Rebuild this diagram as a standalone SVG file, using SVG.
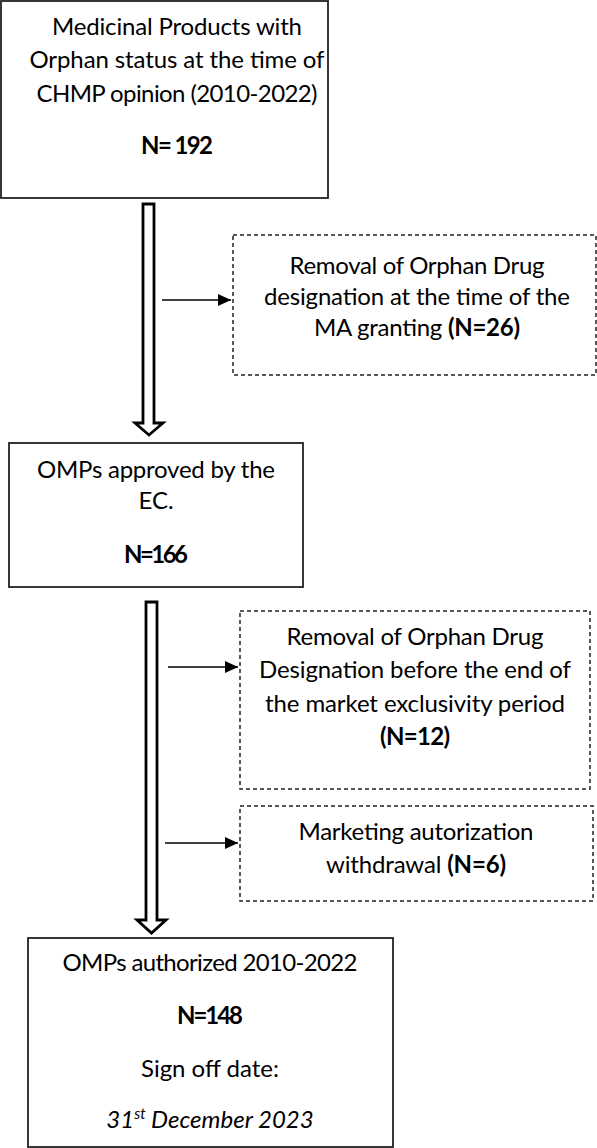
<svg xmlns="http://www.w3.org/2000/svg" width="597" height="1148" viewBox="0 0 597 1148">
<style>
text{font-family:Lato,"Liberation Sans",sans-serif;font-size:24px;fill:#000;text-anchor:middle}
.b{font-weight:bold}
.i{font-style:italic}
.box{fill:#fff;stroke:#222;stroke-width:1.8}
.dash{fill:#fff;stroke:#222;stroke-width:1.5;stroke-dasharray:4 3}
.block{fill:#fff;stroke:#000;stroke-width:2.8;stroke-linejoin:miter}
.conn{stroke:#000;stroke-width:1.6;fill:none}
</style>
<defs>
<marker id="ah" markerWidth="13" markerHeight="12" refX="13" refY="6" orient="auto" markerUnits="userSpaceOnUse" viewBox="0 0 13 12">
<path d="M0,0 L13,6 L0,12 Z" fill="#000"/>
</marker>
</defs>
<rect width="597" height="1148" fill="#fff"/>
<g id="connectors">
<path class="block" d="M143,204 H154 V423 H163 L149,435 L135,423 H143 Z"/>
<path class="block" d="M146,602 H157 V920 H166 L151.5,933 L137,920 H146 Z"/>
<line class="conn" x1="162" y1="300" x2="231" y2="300" marker-end="url(#ah)"/>
<line class="conn" x1="168" y1="667" x2="238" y2="667" marker-end="url(#ah)"/>
<line class="conn" x1="165" y1="843" x2="238" y2="843" marker-end="url(#ah)"/>
</g>
<g id="n1">
<rect class="box" x="1" y="1" width="327" height="197"/>
<text x="177" y="35" textLength="250">Medicinal Products with</text>
<text x="177" y="68" textLength="295">Orphan status at the time of</text>
<text x="177" y="102" textLength="281">CHMP opinion (2010-2022)</text>
<text class="b" x="177" y="154" textLength="72">N= 192</text>
</g>
<g id="n2">
<rect class="dash" x="233" y="235" width="363" height="140"/>
<text x="417" y="274" textLength="255">Removal of Orphan Drug</text>
<text x="417" y="305" textLength="306">designation at the time of the</text>
<text x="417" y="336" textLength="206">MA granting <tspan class="b">(N=26)</tspan></text>
</g>
<g id="n3">
<rect class="box" x="9" y="443" width="294" height="144"/>
<text x="156" y="478" textLength="238">OMPs approved by the</text>
<text x="156" y="509">EC.</text>
<text class="b" x="156" y="563" textLength="64">N=166</text>
</g>
<g id="n4">
<rect class="dash" x="240" y="611" width="350" height="178"/>
<text x="415" y="645" textLength="257">Removal of Orphan Drug</text>
<text x="415" y="678" textLength="312">Designation before the end of</text>
<text x="415" y="712" textLength="300">the market exclusivity period</text>
<text class="b" x="415" y="745" textLength="70">(N=12)</text>
</g>
<g id="n5">
<rect class="dash" x="240" y="806" width="353" height="95"/>
<text x="416" y="840" textLength="235">Marketing autorization</text>
<text x="416" y="873" textLength="180">withdrawal <tspan class="b">(N=6)</tspan></text>
</g>
<g id="n6">
<rect class="box" x="28" y="938" width="365" height="209"/>
<text x="210" y="971" textLength="295">OMPs authorized 2010-2022</text>
<text class="b" x="210" y="1024" textLength="66">N=148</text>
<text x="210" y="1077" textLength="138">Sign off date:</text>
<text class="i" x="210" y="1128">31<tspan font-size="15" dy="-9">st</tspan><tspan dy="9"> December 2023</tspan></text>
</g>
</svg>
